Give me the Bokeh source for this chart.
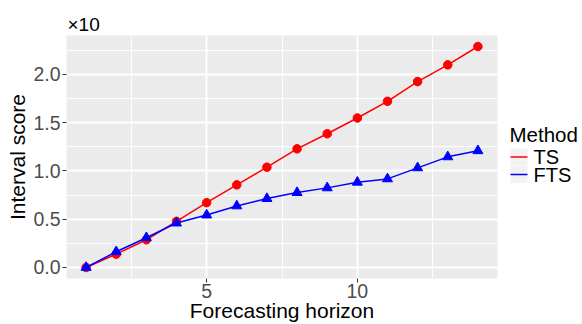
from bokeh.plotting import figure
from bokeh.layouts import row
from bokeh.models import SingleIntervalTicker, PrintfTickFormatter, Title, Range1d
from bokeh.core.properties import value
from bokeh.embed import file_html
from bokeh.resources import INLINE

horizon = [1, 2, 3, 4, 5, 6, 7, 8, 9, 10, 11, 12, 13, 14]
ts_score = [0.0, 0.138, 0.287, 0.478, 0.671, 0.855, 1.038, 1.228, 1.384, 1.547, 1.720, 1.924, 2.097, 2.287]
fts_score = [0.0, 0.163, 0.308, 0.460, 0.543, 0.637, 0.713, 0.775, 0.824, 0.882, 0.917, 1.031, 1.145, 1.208]
methods = ["TS", "FTS"]
colors = ["#FF0000", "#0000FF"]

FONT = "Liberation Sans"
FRAME_TOP, FRAME_BOTTOM = 35, 278

p = figure(width=500, height=324, x_range=(0.35, 14.65), y_range=(-0.114, 2.401),
           output_backend="svg", toolbar_location=None,
           min_border_left=66, min_border_right=3, min_border_top=FRAME_TOP,
           min_border_bottom=324 - FRAME_BOTTOM)

p.background_fill_color = "#EBEBEB"
p.border_fill_color = "white"
p.outline_line_color = None

t = Title(text="×10", text_font=FONT, text_font_size="19px", text_font_style="normal",
          text_color="black", align="left", offset=1, standoff=2)
p.add_layout(t, "above")

p.xaxis.ticker = SingleIntervalTicker(interval=5, num_minor_ticks=2)
p.yaxis.ticker = SingleIntervalTicker(interval=0.5, num_minor_ticks=2)
p.yaxis.formatter = PrintfTickFormatter(format="%.1f")

for ax in (p.xaxis[0], p.yaxis[0]):
    ax.axis_line_color = None
    ax.major_tick_line_color = "#333333"
    ax.major_tick_out = 4
    ax.major_tick_in = 0
    ax.minor_tick_line_color = None
    ax.major_label_text_font = FONT
    ax.major_label_text_font_size = "19.5px"
    ax.major_label_text_color = "#4D4D4D"
    ax.axis_label_text_font = FONT
    ax.axis_label_text_font_size = "21px"
    ax.axis_label_text_font_style = "normal"
    ax.axis_label_text_color = "black"

p.xaxis.axis_label = "Forecasting horizon"
p.yaxis.axis_label = "Interval score"
p.xaxis.major_label_standoff = 1
p.xaxis.axis_label_standoff = -2
p.yaxis.major_label_standoff = 2
p.yaxis.axis_label_standoff = 1

p.xgrid.grid_line_color = "white"
p.ygrid.grid_line_color = "white"
p.xgrid.grid_line_width = 1.8
p.ygrid.grid_line_width = 1.8
p.xgrid.minor_grid_line_color = "white"
p.ygrid.minor_grid_line_color = "white"
p.xgrid.minor_grid_line_width = 0.9
p.ygrid.minor_grid_line_width = 0.9

p.line(horizon, ts_score, line_color=colors[0], line_width=1.5)
p.scatter(horizon, ts_score, marker="circle", size=8.5, fill_color=colors[0], line_color=colors[0])
p.line(horizon, fts_score, line_color=colors[1], line_width=1.5)
p.scatter(horizon, fts_score, marker="triangle", size=10, fill_color=colors[1], line_color=colors[1])

# legend panel: its frame is aligned with the main frame; use page-pixel coordinates
lg = figure(width=82, height=324, x_range=Range1d(0, 82), y_range=Range1d(FRAME_BOTTOM, FRAME_TOP),
            output_backend="svg", toolbar_location=None,
            min_border_left=0, min_border_right=0, min_border_top=FRAME_TOP,
            min_border_bottom=324 - FRAME_BOTTOM)
lg.axis.visible = False
lg.grid.visible = False
lg.outline_line_color = None
lg.background_fill_color = "white"
lg.border_fill_color = "white"

title_x, title_y = 9, 134
key_x0, key_w, row0, row_h, lab_x = 10, 17, 156.5, 17.5, 33

lg.text(x=[title_x], y=[title_y], text=["Method"], text_font=value(FONT),
        text_font_size="20.5px", text_color="black", text_baseline="middle", text_align="left")
rows_y = [row0 + i * row_h for i in range(len(methods))]
lg.rect(x=[key_x0 + key_w / 2] * len(methods), y=rows_y, width=key_w, height=key_w,
        fill_color="#F2F2F2", line_color=None)
lg.segment(x0=[key_x0] * len(methods), y0=rows_y, x1=[key_x0 + key_w] * len(methods), y1=rows_y,
           line_color=colors, line_width=1.5)
lg.text(x=[lab_x] * len(methods), y=rows_y, text=methods, text_font=value(FONT),
        text_font_size="20px", text_color="black", text_baseline="middle", text_align="left")

open("out.html", "w").write(file_html(row(p, lg), INLINE))
